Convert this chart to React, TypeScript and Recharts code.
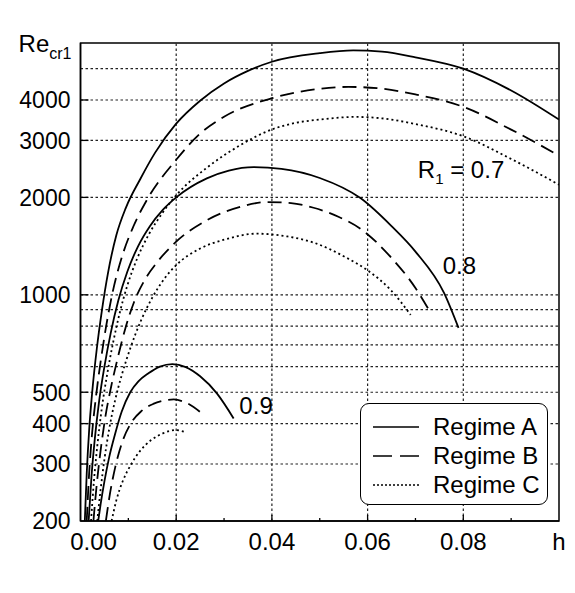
import React from 'react';
import {
  LineChart,
  Line,
  XAxis,
  YAxis,
  ReferenceLine,
  ReferenceArea,
  ReferenceDot,
  Legend,
} from 'recharts';

type Pt = { h: number; re: number };
const mk = (rows: number[][]): Pt[] => rows.map(([h, re]) => ({ h, re }));

// R1 = 0.7
const r07A = mk([
  [0.0009, 200], [0.0013, 280], [0.0018, 380], [0.0025, 510], [0.0034, 680], [0.0045, 900],
  [0.0058, 1180], [0.0075, 1530], [0.0095, 1860], [0.0125, 2280], [0.0156, 2750], [0.02, 3380],
  [0.025, 3980], [0.03, 4500], [0.035, 4920], [0.04, 5250], [0.05, 5580], [0.057, 5690],
  [0.063, 5640], [0.07, 5420], [0.08, 5000], [0.09, 4280], [0.1, 3479],
]);
const r07B = mk([
  [0.0013, 200], [0.0018, 280], [0.0024, 370], [0.0032, 480], [0.0042, 620], [0.0053, 790],
  [0.0066, 1000], [0.0088, 1330], [0.011, 1620], [0.0139, 1967], [0.02, 2614], [0.025, 3150],
  [0.03, 3550], [0.04, 4050], [0.05, 4330], [0.056, 4390], [0.062, 4350], [0.07, 4160],
  [0.08, 3809], [0.09, 3240], [0.1, 2693],
]);
const r07C = mk([
  [0.0022, 200], [0.0028, 265], [0.0035, 340], [0.0044, 440], [0.0055, 560], [0.0068, 710],
  [0.0082, 880], [0.0098, 1070], [0.0118, 1290], [0.0142, 1530], [0.017, 1780], [0.02, 2030],
  [0.0264, 2470], [0.0334, 2900], [0.0404, 3260], [0.045, 3400], [0.05, 3480], [0.0575, 3546],
  [0.063, 3510], [0.07, 3370], [0.08, 3090], [0.09, 2629], [0.1, 2189],
]);
// R1 = 0.8
const r08A = mk([
  [0.0017, 200], [0.0023, 275], [0.003, 360], [0.0039, 470], [0.005, 600], [0.0063, 760],
  [0.0079, 960], [0.0098, 1180], [0.012, 1410], [0.0145, 1630], [0.0172, 1830], [0.02, 2000],
  [0.0264, 2290], [0.031, 2420], [0.0362, 2480], [0.042, 2450], [0.05, 2296], [0.0585, 1990],
  [0.065, 1630], [0.07, 1360], [0.076, 1012], [0.079, 790],
]);
const r08B = mk([
  [0.0027, 200], [0.0034, 260], [0.0042, 330], [0.0052, 420], [0.0064, 520], [0.0078, 640],
  [0.0094, 790], [0.0112, 950], [0.0134, 1110], [0.016, 1260], [0.02, 1460], [0.0264, 1700],
  [0.0334, 1870], [0.039, 1935], [0.044, 1920], [0.0487, 1858], [0.054, 1740], [0.0585, 1600],
  [0.065, 1300], [0.07, 1050], [0.0728, 899],
]);
const r08C = mk([
  [0.0035, 200], [0.0042, 250], [0.005, 310], [0.006, 385], [0.0072, 470], [0.0087, 570],
  [0.0105, 690], [0.0126, 830], [0.015, 980], [0.0175, 1120], [0.02, 1235], [0.025, 1390],
  [0.03, 1480], [0.0369, 1545], [0.0432, 1515], [0.0487, 1450], [0.0557, 1299], [0.06, 1190],
  [0.0648, 1036], [0.069, 867],
]);
// R1 = 0.9
const r09A = mk([
  [0.0037, 200], [0.0042, 225], [0.005, 265], [0.006, 315], [0.0072, 370], [0.0086, 435],
  [0.0104, 500], [0.0121, 540], [0.0142, 572], [0.0166, 600], [0.0192, 611], [0.022, 598],
  [0.025, 560], [0.0285, 496], [0.032, 415],
]);
const r09B = mk([
  [0.0053, 200], [0.0062, 245], [0.0073, 295], [0.0087, 350], [0.0105, 400], [0.0127, 437],
  [0.0152, 460], [0.0178, 472], [0.0195, 475], [0.0222, 463], [0.026, 422],
]);
const r09C = mk([
  [0.0065, 200], [0.0075, 232], [0.0088, 265], [0.0105, 298], [0.0125, 330], [0.0148, 356],
  [0.0172, 373], [0.0198, 382], [0.022, 376],
]);

const xTicks = [0, 0.01, 0.02, 0.03, 0.04, 0.05, 0.06, 0.07, 0.08, 0.09, 0.1];
const xTickLabels = ['0.00', '', '0.02', '', '0.04', '', '0.06', '', '0.08', '', 'h'];
const yTicks = [200, 300, 400, 500, 1000, 2000, 3000, 4000, 6000];
const yTickLabels = ['200', '300', '400', '500', '1000', '2000', '3000', '4000', 'Re'];
const yGrid = [300, 400, 500, 600, 700, 800, 900, 1000, 2000, 3000, 4000, 5000];
const xGrid = [0.02, 0.04, 0.06, 0.08];

const regimes = [
  { name: 'Regime A', dash: undefined as string | undefined, legendDash: undefined as string | undefined },
  { name: 'Regime B', dash: '14 7', legendDash: '19 8' },
  { name: 'Regime C', dash: '2 3', legendDash: '2 2' },
];

const series = [
  { key: 'r07A', data: r07A, regime: 0 },
  { key: 'r07B', data: r07B, regime: 1 },
  { key: 'r07C', data: r07C, regime: 2 },
  { key: 'r08A', data: r08A, regime: 0 },
  { key: 'r08B', data: r08B, regime: 1 },
  { key: 'r08C', data: r08C, regime: 2 },
  { key: 'r09A', data: r09A, regime: 0 },
  { key: 'r09B', data: r09B, regime: 1 },
  { key: 'r09C', data: r09C, regime: 2 },
];

const annotations = [
  { h: 0.0705, re: 2437, text: 'R', sub: '1', rest: ' = 0.7' },
  { h: 0.0757, re: 1229, text: '0.8', sub: '', rest: '' },
  { h: 0.0332, re: 454, text: '0.9', sub: '', rest: '' },
];

const FONT = '"Liberation Sans", Arial, Helvetica, sans-serif';
const X_MARGIN = 12;
const Y_MARGIN = 10;

const XTick = (props: any) => {
  const { x, y, payload } = props;
  const i = xTicks.findIndex((t) => Math.abs(t - payload.value) < 1e-9);
  const label = i >= 0 ? xTickLabels[i] : '';
  const axisY = y - X_MARGIN;
  const len = i <= 0 || i === xTicks.length - 1 ? 0 : i % 2 === 0 ? 6 : 3;
  return (
    <g>
      {len > 0 && <line x1={x} x2={x} y1={axisY} y2={axisY - len} stroke="#000" strokeWidth={1.3} />}
      {label && (
        <text x={x + (i === 0 ? 13 : 0)} y={y} dy="0.71em" textAnchor="middle" fontFamily={FONT} fontSize={24} fill="#000">
          {label}
        </text>
      )}
    </g>
  );
};

const YTick = (props: any) => {
  const { x, y, payload } = props;
  const i = yTicks.indexOf(payload.value);
  const label = i >= 0 ? yTickLabels[i] : '';
  const axisX = x + Y_MARGIN;
  const showTick = i > 0 && i < yTicks.length - 1;
  return (
    <g>
      {showTick && <line x1={axisX} x2={axisX + 8} y1={y} y2={y} stroke="#000" strokeWidth={1.3} />}
      {label === 'Re' ? (
        <text x={x + 1} y={y} dy="0.36em" textAnchor="end" fontFamily={FONT} fontSize={24} fill="#000">
          <tspan>Re</tspan>
          <tspan fontSize={16} dy={7}>cr1</tspan>
        </text>
      ) : (
        <text x={x} y={y} dy="0.36em" textAnchor="end" fontFamily={FONT} fontSize={23} fill="#000">
          {label}
        </text>
      )}
    </g>
  );
};

const makeAnnotation = (a: (typeof annotations)[number]) => (props: any) => {
  const vb = props.viewBox || {};
  const x = (vb.x ?? 0) + (vb.width ?? 0) / 2;
  const y = (vb.y ?? 0) + (vb.height ?? 0) / 2;
  return (
    <text x={x} y={y} dy="0.36em" textAnchor="start" fontFamily={FONT} fontSize={24} fill="#000">
      <tspan>{a.text}</tspan>
      {a.sub && <tspan fontSize={15} dy={6}>{a.sub}</tspan>}
      {a.rest && <tspan dy={a.sub ? -6 : 0}>{a.rest}</tspan>}
    </text>
  );
};

const LegendBox = () => (
  <div
    style={{
      boxSizing: 'border-box',
      width: 188,
      height: 102,
      border: '1.6px solid #000',
      borderRadius: 9,
      background: '#fff',
      padding: '8px 0 0 12px',
      fontFamily: FONT,
      fontSize: 24,
      color: '#000',
    }}
  >
    {regimes.map((r) => (
      <div key={r.name} style={{ display: 'flex', alignItems: 'center', height: 29 }}>
        <svg width={46} height={10} style={{ marginRight: 14 }}>
          <line x1={0} x2={46} y1={5} y2={5} stroke="#000" strokeWidth={1.7} strokeDasharray={r.legendDash} />
        </svg>
        <span style={{ lineHeight: '29px' }}>{r.name}</span>
      </div>
    ))}
  </div>
);

export default function App() {
  return (
    <div style={{ width: 575, height: 593, margin: -8 }}>
      <LineChart
        width={575}
        height={593}
        margin={{ top: 43, right: 16, left: 0, bottom: 32 }}
      >
        <XAxis
          dataKey="h"
          type="number"
          domain={[0, 0.1]}
          ticks={xTicks}
          interval={0}
          allowDataOverflow
          height={40}
          tickSize={0}
          tickMargin={X_MARGIN}
          tickLine={false}
          tick={<XTick />}
          axisLine={{ stroke: '#000', strokeWidth: 1.5 }}
        />
        <YAxis
          dataKey="re"
          type="number"
          scale="log"
          domain={[200, 6000]}
          ticks={yTicks}
          interval={0}
          allowDataOverflow
          width={80.5}
          tickSize={0}
          tickMargin={Y_MARGIN}
          tickLine={false}
          tick={<YTick />}
          axisLine={{ stroke: '#000', strokeWidth: 1.5 }}
        />
        {yGrid.map((v) => (
          <ReferenceLine key={'gy' + v} y={v} stroke="#222" strokeWidth={1.2} strokeDasharray="2.5 2.5" />
        ))}
        {xGrid.map((v) => (
          <ReferenceLine key={'gx' + v} x={v} stroke="#222" strokeWidth={1.2} strokeDasharray="2.5 2.5" />
        ))}
        <ReferenceArea x1={0} x2={0.1} y1={200} y2={6000} fill="none" stroke="#000" strokeWidth={1.5} ifOverflow="visible" />
        {series.map((s) => (
          <Line
            key={s.key}
            data={s.data}
            dataKey="re"
            name={regimes[s.regime].name}
            type="monotone"
            stroke="#000"
            strokeWidth={1.8}
            strokeDasharray={regimes[s.regime].dash}
            dot={false}
            activeDot={false}
            isAnimationActive={false}
          />
        ))}
        {annotations.map((a) => (
          <ReferenceDot
            key={a.text}
            x={a.h}
            y={a.re}
            r={0}
            fill="none"
            stroke="none"
            label={makeAnnotation(a)}
          />
        ))}
        <Legend
          layout="vertical"
          align="center"
          verticalAlign="middle"
          wrapperStyle={{ left: 360, top: 403, width: 188, height: 102 }}
          content={() => <LegendBox />}
        />
      </LineChart>
    </div>
  );
}
